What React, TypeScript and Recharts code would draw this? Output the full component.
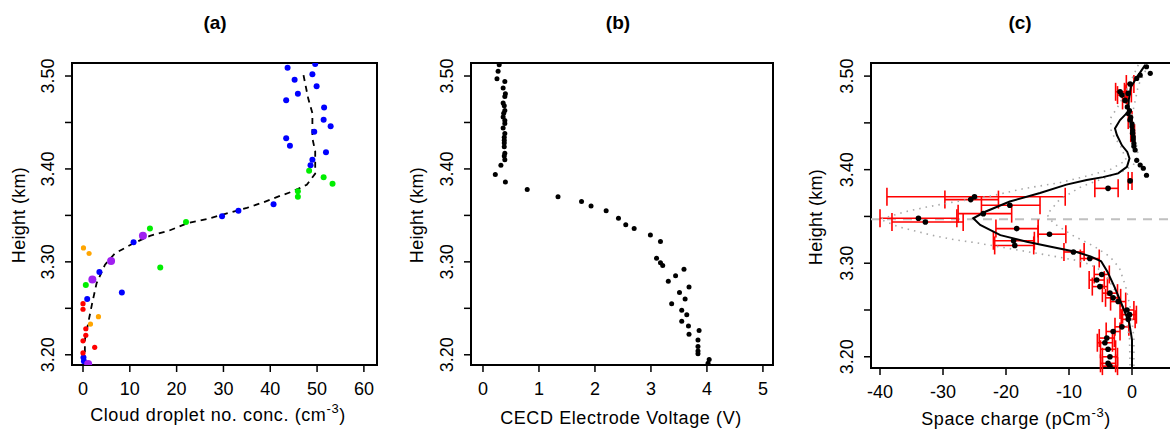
import React from "react";
import {
  ComposedChart,
  ErrorBar,
  ReferenceArea,
  ReferenceLine,
  Scatter,
  XAxis,
  YAxis,
} from "recharts";

const FONT = "'Liberation Sans', Arial, sans-serif";

// ---- panel (a): cloud droplet number concentration vs height
const blueA = [
  [43.7, 3.509], [49.6, 3.513], [45.2, 3.496], [49.0, 3.502], [49.9, 3.489],
  [45.9, 3.481], [43.4, 3.474], [51.5, 3.466], [51.4, 3.453], [52.9, 3.446],
  [49.4, 3.44], [43.4, 3.433], [44.2, 3.425], [51.9, 3.418], [49.0, 3.41],
  [48.6, 3.404], [40.7, 3.362], [33.2, 3.355], [29.7, 3.349], [10.8, 3.321],
  [3.5, 3.289], [8.3, 3.267], [0.9, 3.26], [0.1, 3.197], [0.2, 3.193],
];
const greenA = [
  [48.3, 3.398], [51.4, 3.391], [53.3, 3.384], [45.9, 3.376], [45.9, 3.37],
  [22.0, 3.343], [14.3, 3.336], [16.5, 3.294], [0.6, 3.275],
];
const purpleA = [[12.8, 3.328], [6.0, 3.301], [2.0, 3.281], [1.1, 3.19]];
const orangeA = [[0.1, 3.315], [1.3, 3.309], [3.3, 3.241], [1.6, 3.233]];
const redA = [
  [0.0, 3.255], [0.0, 3.249], [0.6, 3.228], [0.6, 3.221], [0.0, 3.215],
  [2.5, 3.208], [0.0, 3.202],
];
const meanA = [
  [47.1, 3.501], [48.1, 3.476], [49.0, 3.46], [49.0, 3.433], [49.6, 3.419],
  [49.6, 3.395], [47.8, 3.383], [44.9, 3.376], [42.1, 3.371], [38.5, 3.364],
  [35.0, 3.358], [31.4, 3.353], [26.4, 3.346], [22.5, 3.342], [18.6, 3.334],
  [14.3, 3.328], [10.4, 3.319], [6.8, 3.309], [4.7, 3.297], [2.9, 3.277],
  [1.9, 3.254], [1.1, 3.234], [0.4, 3.216], [0.4, 3.198],
];

// ---- panel (b): CECD electrode voltage
const voltB = [
  [0.29, 3.512], [0.27, 3.505], [0.25, 3.497], [0.39, 3.494], [0.36, 3.487],
  [0.4, 3.481], [0.39, 3.478], [0.36, 3.471], [0.38, 3.468], [0.39, 3.463],
  [0.37, 3.46], [0.36, 3.456], [0.39, 3.452], [0.39, 3.449], [0.36, 3.444],
  [0.39, 3.438], [0.38, 3.434], [0.38, 3.431], [0.38, 3.428], [0.38, 3.424],
  [0.39, 3.417], [0.38, 3.414], [0.39, 3.41], [0.32, 3.404], [0.22, 3.394],
  [0.4, 3.386], [0.79, 3.378], [1.34, 3.37], [1.76, 3.365], [1.93, 3.36],
  [2.2, 3.355], [2.42, 3.347], [2.55, 3.34], [2.7, 3.336], [2.99, 3.329],
  [3.17, 3.322], [3.1, 3.304], [3.17, 3.299], [3.21, 3.296], [3.59, 3.292],
  [3.44, 3.285], [3.31, 3.279], [3.68, 3.273], [3.51, 3.267], [3.61, 3.26],
  [3.37, 3.255], [3.55, 3.248], [3.64, 3.243], [3.55, 3.236], [3.67, 3.231],
  [3.86, 3.226], [3.68, 3.222], [3.84, 3.216], [3.84, 3.209], [3.84, 3.204],
  [3.84, 3.201], [4.04, 3.195], [4.02, 3.191],
];

// ---- panel (c): space charge, [x, h, low, high]
const bigErrC = [
  [-25.0, 3.371, -38.9, -10.6], [-25.6, 3.368, -29.7, -21.2],
  [-19.4, 3.362, -23.9, -14.6], [-23.6, 3.353, -27.6, -19.1],
  [-33.9, 3.348, -40.0, -27.8], [-32.8, 3.344, -38.1, -26.8],
  [-18.3, 3.337, -21.6, -14.9], [-13.1, 3.331, -14.9, -10.5],
  [-18.8, 3.324, -22.0, -15.5], [-18.6, 3.319, -21.8, -15.6],
];
const smallErrC = [
  [-0.3, 3.4915, -0.9, 0.3], [-1.9, 3.4832, -2.6, -1.2], [-1.6, 3.4797, -2.3, -0.9],
  [-0.6, 3.4815, -1.1, -0.1], [-1.1, 3.474, -1.5, -0.7], [-0.3, 3.453, -0.6, 0.0],
  [0.1, 3.439, -0.2, 0.4], [-0.3, 3.388, -0.6, 0.0], [-3.8, 3.38, -5.9, -2.2],
  [-9.3, 3.312, -10.8, -7.6], [-6.7, 3.305, -8.2, -5.2], [-4.8, 3.288, -6.0, -3.6],
  [-5.6, 3.282, -6.8, -4.4], [-5.1, 3.275, -6.3, -3.9], [-3.5, 3.268, -4.7, -2.3],
  [-3.0, 3.263, -4.2, -1.8], [-2.2, 3.259, -3.4, -1.0], [-0.8, 3.25, -1.9, 0.3],
  [-0.4, 3.245, -1.5, 0.7], [-0.6, 3.24, -1.7, 0.5], [-1.6, 3.232, -2.7, -0.5],
  [-3.0, 3.227, -4.1, -1.9], [-4.0, 3.22, -5.2, -2.8], [-4.3, 3.215, -5.5, -3.1],
  [-3.8, 3.208, -5.0, -2.6], [-3.5, 3.2, -4.7, -2.3], [-3.8, 3.193, -5.0, -2.6],
  [-3.5, 3.19, -4.7, -2.3],
];
const upperC = [
  [2.3, 3.51], [2.9, 3.503], [1.3, 3.501], [0.75, 3.4975], [-0.75, 3.467],
  [-0.4, 3.463], [-0.6, 3.46], [-0.2, 3.456], [0.0, 3.449], [0.0, 3.446],
  [0.1, 3.442], [0.2, 3.435], [0.2, 3.432], [0.3, 3.428], [0.3, 3.425],
  [0.5, 3.421], [0.75, 3.41], [1.3, 3.405], [1.8, 3.4015], [2.3, 3.394],
];
const fitC = [
  [2.1, 3.512], [0.9, 3.5], [-0.2, 3.488], [-0.5, 3.475], [-0.6, 3.462],
  [-1.9, 3.453], [-2.7, 3.444], [-2.4, 3.437], [-1.6, 3.426], [-0.75, 3.419],
  [-0.4, 3.412], [-0.8, 3.403], [-2.2, 3.396], [-4.6, 3.392], [-7.2, 3.389],
  [-10.4, 3.384], [-14.6, 3.375], [-19.4, 3.366], [-23.3, 3.355], [-25.2, 3.348],
  [-24.1, 3.341], [-20.9, 3.33], [-16.7, 3.323], [-12.5, 3.317], [-8.8, 3.312],
  [-6.5, 3.307], [-4.9, 3.302], [-3.9, 3.291], [-2.8, 3.275], [-1.5, 3.254],
  [-0.43, 3.236], [0, 3.218], [0, 3.188],
];
const outerC = [
  [1.0, 3.512], [-0.5, 3.49], [-2.0, 3.47], [-3.4, 3.455], [-3.3, 3.44],
  [-1.8, 3.425], [-0.9, 3.41], [-3.5, 3.4], [-6.7, 3.394], [-11.5, 3.386],
  [-17.0, 3.38], [-22.3, 3.372], [-28.6, 3.365], [-32.6, 3.36], [-36.0, 3.355],
  [-40.0, 3.347], [-37.1, 3.339], [-31.8, 3.33], [-28.1, 3.325], [-24.9, 3.322],
  [-20.2, 3.3165], [-12.0, 3.307], [-8.0, 3.302], [-5.5, 3.295], [-4.0, 3.285],
  [-2.6, 3.27], [-1.2, 3.25], [-0.4, 3.22], [-0.3, 3.188],
];
const innerC = [
  [2.6, 3.512], [1.0, 3.49], [0.4, 3.47], [-0.3, 3.45], [0.6, 3.43],
  [1.0, 3.415], [0.2, 3.405], [-1.5, 3.398], [-4.0, 3.392], [-8.0, 3.382],
  [-11.5, 3.368], [-13.5, 3.352], [-12.5, 3.343], [-9.5, 3.33], [-6.0, 3.318],
  [-3.5, 3.307], [-2.0, 3.295], [-1.0, 3.275], [-0.2, 3.25], [0.3, 3.22],
  [0.3, 3.188],
];
const zeroLineC = 3.347;

const heightTicks = [3.2, 3.25, 3.3, 3.35, 3.4, 3.45, 3.5];
const concTicks = [0, 10, 20, 30, 40, 50, 60];
const voltTicks = [0, 1, 2, 3, 4, 5];
const chargeTicks = [-40, -30, -20, -10, 0];

const pts = (arr: number[][]) => arr.map(([x, h]) => ({ x, h }));
const errPts = (arr: number[][]) =>
  arr.map(([x, h, lo, hi]) => ({ x, h, err: [x - lo, hi - x] }));

const dot = (color: string, r: number) => (p: any) =>
  <circle cx={p.cx} cy={p.cy} r={r} fill={color} />;
const noDot = () => <g />;

type PanelProps = {
  width: number;
  box: { l: number; r: number; t: number; b: number };
  xDomain: number[];
  yDomain: number[];
  xTicks: number[];
  xTickY: number;
  xLabel: string;
  xLabelEnd: string;
  sup?: string;
  xLabelX: number;
  xLabelY: number;
  yLabelX: number;
  yLabelY: number;
  children: React.ReactNode;
};

function Panel(p: PanelProps) {
  const { l, r, t, b } = p.box;
  const txt = { fontFamily: FONT, fontSize: 18, fill: "#000" };
  return (
    <ComposedChart
      width={p.width}
      height={436}
      margin={{ top: t, right: p.width - r, left: l - 30, bottom: 436 - b - 30 }}
    >
      <XAxis
        type="number"
        dataKey="x"
        domain={p.xDomain}
        ticks={p.xTicks}
        interval={0}
        allowDataOverflow
        height={30}
        axisLine={false}
        tickSize={7}
        tickLine={{ stroke: "#000", strokeWidth: 1.5 }}
        tick={(tp: any) => (
          <text x={tp.x} y={p.xTickY} textAnchor="middle" {...txt}>
            {tp.payload.value}
          </text>
        )}
        label={() => (
          <text x={p.xLabelX} y={p.xLabelY} textAnchor="middle" {...txt} style={{ letterSpacing: 0.6 }}>
            {p.xLabel}
            {p.sup ? (
              <>
                <tspan dy={-8} fontSize={13}>{p.sup}</tspan>
                <tspan dy={8}>{p.xLabelEnd}</tspan>
              </>
            ) : (
              p.xLabelEnd
            )}
          </text>
        )}
      />
      <YAxis
        type="number"
        dataKey="h"
        domain={p.yDomain}
        ticks={heightTicks}
        interval={0}
        allowDataOverflow
        width={30}
        axisLine={false}
        tickSize={7}
        tickLine={{ stroke: "#000", strokeWidth: 1.5 }}
        tick={(tp: any) => {
          const v = tp.payload.value;
          if (Math.abs(v * 10 - Math.round(v * 10)) > 1e-6) return <g />;
          const tx = l - 18;
          return (
            <text x={tx} y={tp.y} transform={`rotate(-90 ${tx} ${tp.y})`} textAnchor="middle" {...txt}>
              {v.toFixed(2)}
            </text>
          );
        }}
        label={() => (
          <text
            x={p.yLabelX}
            y={p.yLabelY}
            transform={`rotate(-90 ${p.yLabelX} ${p.yLabelY})`}
            textAnchor="middle"
            {...txt}
            style={{ letterSpacing: 0.3 }}
          >
            Height (km)
          </text>
        )}
      />
      <ReferenceArea
        x1={p.xDomain[0]}
        x2={p.xDomain[1]}
        y1={p.yDomain[0]}
        y2={p.yDomain[1]}
        fill="none"
        stroke="#000"
        strokeWidth={2}
        ifOverflow="visible"
      />
      {p.children}
    </ComposedChart>
  );
}

const titleStyle = (cx: number): React.CSSProperties => ({
  position: "absolute",
  left: cx - 30,
  width: 60,
  top: 13,
  textAlign: "center",
  fontFamily: FONT,
  fontWeight: 700,
  fontSize: 19,
  lineHeight: "19px",
});

export default function App() {
  return (
    <div
      style={{
        position: "absolute",
        left: 0,
        top: 0,
        width: 1170,
        height: 436,
        overflow: "hidden",
        background: "#fff",
      }}
    >
      <div style={titleStyle(215)}>(a)</div>
      <div style={titleStyle(618)}>(b)</div>
      <div style={titleStyle(1020)}>(c)</div>

      <div style={{ position: "absolute", left: 0, top: 0 }}>
        <Panel
          width={390}
          box={{ l: 72, r: 377, t: 63, b: 365 }}
          xDomain={[-2.35, 62.8]}
          yDomain={[3.189, 3.514]}
          xTicks={concTicks}
          xTickY={395}
          xLabel="Cloud droplet no. conc. (cm"
          sup="-3"
          xLabelEnd=")"
          xLabelX={218}
          xLabelY={421}
          yLabelX={25}
          yLabelY={215}
        >
          <Scatter data={pts(meanA)} shape={noDot} isAnimationActive={false}
            line={{ stroke: "#000", strokeWidth: 1.8, strokeDasharray: "6 5" }} />
          <Scatter data={pts(blueA)} shape={dot("#0000ff", 3)} isAnimationActive={false} />
          <Scatter data={pts(greenA)} shape={dot("#00ee00", 3)} isAnimationActive={false} />
          <Scatter data={pts(purpleA)} shape={dot("#a020f0", 4)} isAnimationActive={false} />
          <Scatter data={pts(orangeA)} shape={dot("#ffa500", 2.6)} isAnimationActive={false} />
          <Scatter data={pts(redA)} shape={dot("#ff0000", 2.6)} isAnimationActive={false} />
        </Panel>
      </div>

      <div style={{ position: "absolute", left: 390, top: 0 }}>
        <Panel
          width={390}
          box={{ l: 81, r: 383, t: 63, b: 365 }}
          xDomain={[-0.214, 5.18]}
          yDomain={[3.189, 3.514]}
          xTicks={voltTicks}
          xTickY={395}
          xLabel="CECD Electrode Voltage (V"
          xLabelEnd=")"
          xLabelX={231}
          xLabelY={424}
          yLabelX={33}
          yLabelY={215}
        >
          <Scatter data={pts(voltB)} shape={dot("#000", 2.5)} isAnimationActive={false} />
        </Panel>
      </div>

      <div style={{ position: "absolute", left: 780, top: 0 }}>
        <Panel
          width={430}
          box={{ l: 91, r: 415, t: 63, b: 368 }}
          xDomain={[-41.43, 10]}
          yDomain={[3.188, 3.514]}
          xTicks={chargeTicks}
          xTickY={398}
          xLabel="Space charge (pCm"
          sup="-3"
          xLabelEnd=")"
          xLabelX={236}
          xLabelY={425}
          yLabelX={42}
          yLabelY={217}
        >
          <ReferenceLine y={zeroLineC} stroke="#c0c0c0" strokeWidth={2} strokeDasharray="9 7" ifOverflow="visible" />
          <Scatter data={pts(outerC)} shape={noDot} isAnimationActive={false}
            line={{ stroke: "#a8a8a8", strokeWidth: 1.6, strokeDasharray: "1.5 5" }} />
          <Scatter data={pts(innerC)} shape={noDot} isAnimationActive={false}
            line={{ stroke: "#a8a8a8", strokeWidth: 1.6, strokeDasharray: "1.5 5" }} />
          <Scatter data={errPts(bigErrC)} shape={dot("#000", 2.8)} isAnimationActive={false}>
            <ErrorBar dataKey="err" direction="x" width={9} stroke="#ff0000" strokeWidth={1.6} />
          </Scatter>
          <Scatter data={errPts(smallErrC)} shape={dot("#000", 2.8)} isAnimationActive={false}>
            <ErrorBar dataKey="err" direction="x" width={9} stroke="#ff0000" strokeWidth={1.6} />
          </Scatter>
          <Scatter data={pts(upperC)} shape={dot("#000", 2.6)} isAnimationActive={false} />
          <Scatter data={pts(fitC)} shape={noDot} isAnimationActive={false}
            line={{ stroke: "#000", strokeWidth: 2 }} />
        </Panel>
      </div>
    </div>
  );
}
